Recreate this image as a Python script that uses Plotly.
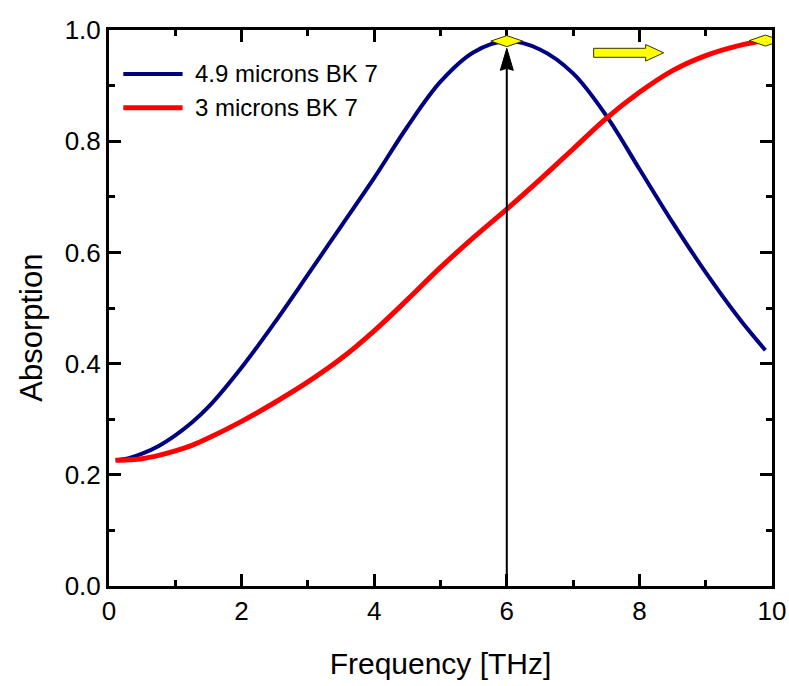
import plotly.graph_objects as go

# Frequency grid [THz] and absorption of the two BK 7 layers
freq = [0.1, 0.3, 0.5, 0.75, 1.0, 1.25, 1.5, 2.0, 2.5, 3.0, 3.5, 4.0, 4.5, 5.0,
        5.5, 6.0, 6.5, 7.0, 7.5, 8.0, 8.5, 9.0, 9.5, 9.9]
abs_49um = [0.226, 0.230, 0.238, 0.252, 0.271, 0.294, 0.322, 0.393, 0.474, 0.560, 0.647,
            0.734, 0.826, 0.907, 0.960, 0.980, 0.965, 0.922, 0.846, 0.750, 0.654, 0.564,
            0.482, 0.424]
abs_3um = [0.226, 0.227, 0.229, 0.235, 0.243, 0.253, 0.266, 0.296, 0.330, 0.367, 0.409,
           0.459, 0.515, 0.573, 0.627, 0.678, 0.731, 0.786, 0.841, 0.888, 0.927, 0.954,
           0.972, 0.981]

series_names = ["4.9 microns BK 7", "3 microns BK 7"]
series_colors = ["#000080", "#FF0000"]
series_widths = [4, 5]

x_ticks = [0, 2, 4, 6, 8, 10]
y_ticks = [0.0, 0.2, 0.4, 0.6, 0.8, 1.0]

FONT = "Liberation Sans, Arial, sans-serif"

fig = go.Figure()
for ys, name, color, w in zip([abs_49um, abs_3um], series_names, series_colors, series_widths):
    fig.add_trace(go.Scatter(x=freq, y=ys, mode="lines", name=name,
                             line=dict(color=color, width=w, shape="spline", smoothing=1.0),
                             showlegend=False))

# Peak of the thick layer and high-frequency end of the thin layer
i_peak = max(range(len(abs_49um)), key=lambda i: abs_49um[i])
peak_x, peak_y = freq[i_peak], abs_49um[i_peak]
end_x, end_y = freq[-1], abs_3um[-1]

shapes = []
# vertical arrow marking the absorption peak
shapes.append(dict(type="line", xref="x", yref="y", x0=peak_x, x1=peak_x, y0=0, y1=peak_y - 0.05,
                   line=dict(color="black", width=2), layer="above"))
shapes.append(dict(type="path", xref="x", yref="y", xsizemode="pixel", ysizemode="pixel",
                   xanchor=peak_x, yanchor=peak_y - 0.013,
                   path="M 0 0 L -6.5 -22 L 0 -20 L 6.5 -22 Z",
                   fillcolor="black", line=dict(color="black", width=1), layer="above"))
# flat yellow diamonds on the two maxima
for (dx, dy) in [(peak_x, peak_y), (end_x, end_y)]:
    shapes.append(dict(type="path", xref="x", yref="y", xsizemode="pixel", ysizemode="pixel",
                       xanchor=dx, yanchor=dy,
                       path="M -16 0 L 0 5.5 L 16 0 L 0 -5.5 Z",
                       fillcolor="#FFFF00", line=dict(color="#333300", width=1), layer="above"))
# yellow block arrow pointing toward higher frequency
shapes.append(dict(type="path", xref="x", yref="y", xsizemode="pixel", ysizemode="pixel",
                   xanchor=7.31, yanchor=0.959,
                   path="M 0 4.5 L 52 4.5 L 52 8.3 L 70 0 L 52 -8.3 L 52 -4.5 L 0 -4.5 Z",
                   fillcolor="#FFFF00", line=dict(color="#333300", width=1), layer="above"))

# legend drawn as line samples plus text
legend_rows = [0.921, 0.860]
annotations = []
for name, color, w, yy in zip(series_names, series_colors, series_widths, legend_rows):
    shapes.append(dict(type="line", xref="paper", yref="paper", x0=0.0216, x1=0.111, y0=yy, y1=yy,
                       line=dict(color=color, width=w)))
    annotations.append(dict(xref="paper", yref="paper", x=0.127, y=yy, text=name, showarrow=False,
                            xanchor="left", yanchor="middle",
                            font=dict(family=FONT, size=24, color="black")))

annotations.append(dict(xref="paper", yref="paper", x=-0.118, y=0.464, text="Absorption",
                        textangle=-90, showarrow=False, xanchor="center", yanchor="middle",
                        font=dict(family=FONT, size=31, color="black")))

axis_common = dict(showline=True, linecolor="black", linewidth=3, mirror="ticks",
                   ticks="inside", ticklen=12, tickwidth=3, tickcolor="black",
                   showgrid=False, zeroline=False, automargin=False,
                   tickfont=dict(family=FONT, size=26, color="black"))

fig.update_layout(
    width=789, height=686,
    margin=dict(l=109, r=17, t=30, b=100),
    plot_bgcolor="white", paper_bgcolor="white",
    xaxis=dict(range=[0, 10], tickvals=x_ticks, ticktext=[str(v) for v in x_ticks],
               minor=dict(ticks="inside", ticklen=6, tickwidth=3, tickcolor="black", dtick=1),
               title=dict(text="Frequency [THz]", font=dict(family=FONT, size=30, color="black"),
                          standoff=28),
               **axis_common),
    yaxis=dict(range=[0, 1], tickvals=y_ticks, ticktext=[f"{v:.1f}" for v in y_ticks],
               minor=dict(ticks="inside", ticklen=6, tickwidth=3, tickcolor="black", dtick=0.1),
               **axis_common),
    shapes=shapes,
    annotations=annotations,
)

fig.write_html("out.html")
